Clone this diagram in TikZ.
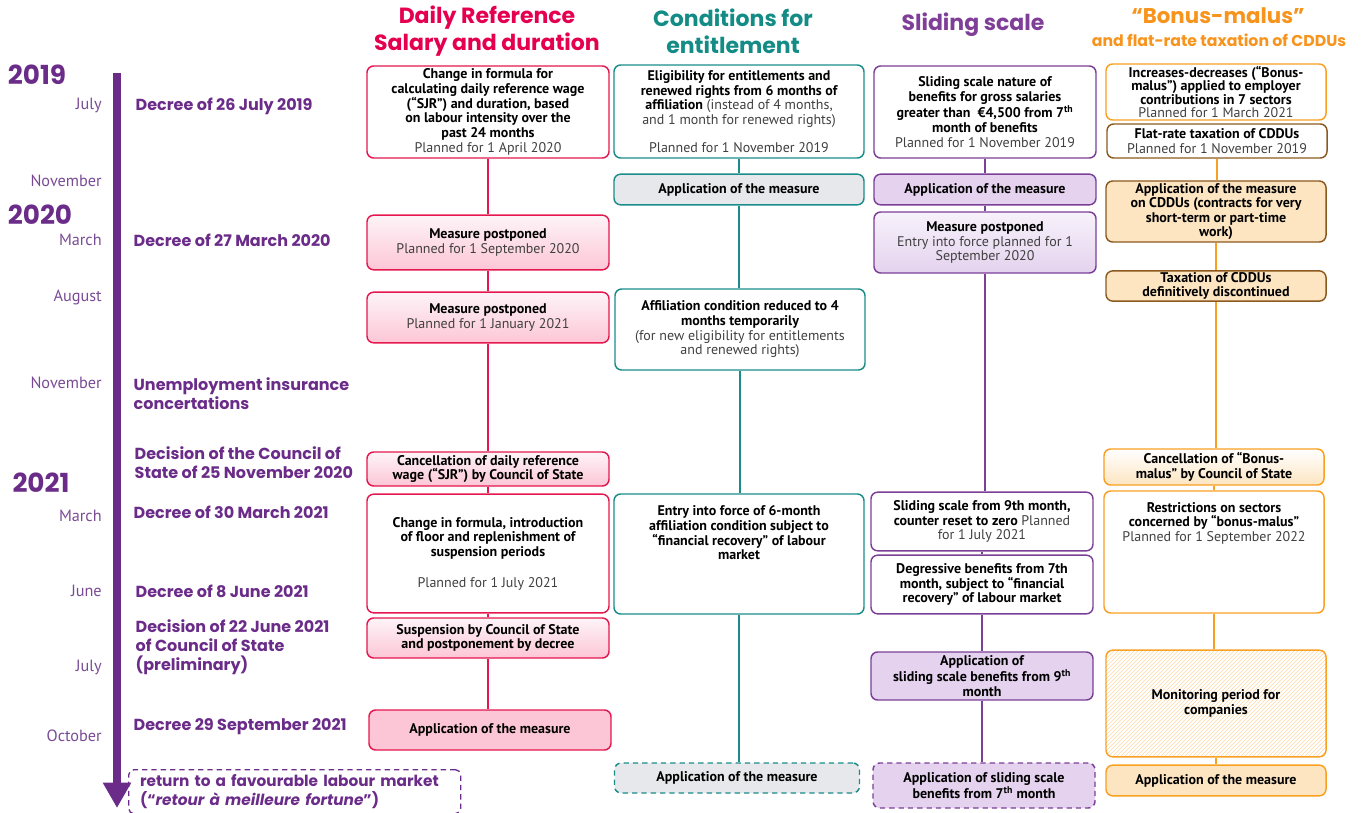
\documentclass[tikz,border=0pt]{standalone}
\usepackage{fontspec}
\setmainfont{PT Sans}
\newfontfamily\headfont{Poppins}
\usetikzlibrary{arrows.meta,patterns}

\definecolor{sjr}{HTML}{E5174E}
\definecolor{sjrfill}{HTML}{FDC6D6}
\definecolor{sjrtop}{HTML}{FDF4F8}
\definecolor{cond}{HTML}{1A8C8A}
\definecolor{condfill}{HTML}{E6E8EB}
\definecolor{slide}{HTML}{7B3F98}
\definecolor{slidefill}{HTML}{E4D2EE}
\definecolor{slidetop}{HTML}{F7F2FB}
\definecolor{bonus}{HTML}{F9A020}
\definecolor{bonusdark}{HTML}{8C5A1F}
\definecolor{bonusfill}{HTML}{FDE5C2}
\definecolor{timeline}{HTML}{6A2C88}
\definecolor{monthcol}{HTML}{7A4B95}
\definecolor{plangray}{HTML}{404040}
\definecolor{hsjr}{HTML}{E5004F}
\definecolor{hcond}{HTML}{138C86}
\definecolor{hslide}{HTML}{7F3F98}
\definecolor{hbonus}{HTML}{F7941D}

\newcommand{\plan}[1]{{\mdseries\color{plangray}#1}}

\begin{document}
\begin{tikzpicture}[x=0.75pt, y=-0.75pt,
  box/.style={draw, rounded corners=5pt, line width=1.1pt, align=center, inner sep=2pt,
    font=\fontsize{10.5}{11}\selectfont\bfseries, text=black},
  sjrbox/.style={box, draw=sjr, minimum width=181.5pt},
  condbox/.style={box, draw=cond, minimum width=187.5pt},
  slidebox/.style={box, draw=slide, minimum width=166.5pt},
  bonusbox/.style={box, draw=bonus, minimum width=165pt},
  dashbox/.style={dash pattern=on 4pt off 3pt},
  link/.style={line width=1.4pt},
  head/.style={font=\headfont\bfseries\fontsize{16.5}{20}\selectfont, align=center},
  year/.style={font=\headfont\bfseries\fontsize{19.7}{22}\selectfont, text=timeline},
  month/.style={anchor=east, inner xsep=0pt, font=\fontsize{12.2}{14}\selectfont, text=monthcol},
  decree/.style={anchor=west, align=left, font=\headfont\bfseries\fontsize{12}{14.3}\selectfont, text=timeline},
]
\useasboundingbox (0,0) rectangle (1363,813);

% --- Timeline ---
\coordinate (tlTop) at (117,73);
\coordinate (tlEnd) at (117,808);
\draw[timeline, line width=6pt, -{Triangle[width=20pt,length=19pt]}] (tlTop) -- (tlEnd);

% --- Years and months ---
\node[year] (y2019) at (37,75) {2019};
\node[year] (y2020) at (40,215) {2020};
\node[year] (y2021) at (41,483) {2021};

\node[month] (mJul19) at (102,105) {July};
\node[month] (mNov19) at (102,181) {November};
\node[month] (mMar20) at (102,240) {March};
\node[month] (mAug20) at (102,297) {August};
\node[month] (mNov20) at (102,383) {November};
\node[month] (mMar21) at (102,516) {March};
\node[month] (mJun21) at (102,591) {June};
\node[month] (mJul21) at (102,667) {July};
\node[month] (mOct21) at (102,736) {October};

% --- Decrees and decisions ---
\node[decree] (dJul19) at (131,106) {Decree of 26 July 2019};
\node[decree] (dMar20) at (129,240) {Decree of 27 March 2020};
\node[decree] (dNov20) at (129,394) {Unemployment insurance\\concertations};
\node[decree] (dCE20) at (130,463) {Decision of the Council of\\State of 25 November 2020};
\node[decree] (dMar21) at (129,512) {Decree of 30 March 2021};
\node[decree] (dJun21) at (131,591) {Decree of 8 June 2021};
\node[decree] (dCE21) at (131,647) {Decision of 22 June 2021\\of Council of State\\(preliminary)};
\node[decree] (dSep21) at (129,727) {Decree 29 September 2021};
\node[draw=timeline, dashbox, line width=1pt, rounded corners=4pt, anchor=north west,
  minimum width=249pt, minimum height=33pt, inner xsep=8pt, text width=232pt, align=left,
  font=\headfont\bfseries\fontsize{11.5}{14}\selectfont, text=timeline]
  (fortune) at (128,769) {return to a favourable labour market\\(“\textit{retour à meilleure fortune}”)};

% --- Column headers ---
\node[head, text=hsjr] (hSJR) at (487,31) {Daily Reference\\Salary and duration};
\node[head, text=hcond] (hCond) at (733,31) {Conditions for\\entitlement};
\node[head, text=hslide] (hSlide) at (973,25) {Sliding scale};
\node[head, text=hbonus, font=\headfont\bfseries\fontsize{16}{20}\selectfont] (hBonus) at (1218,16) {“Bonus-malus”};
\node[text=hbonus, font=\headfont\bfseries\fontsize{11.8}{13}\selectfont] (hBonusSub) at (1219,40) {and flat-rate taxation of CDDUs};

% --- Daily reference salary ---
\node[sjrbox, minimum height=69pt] (sjrA) at (488,112)
  {Change in formula for\\calculating daily reference wage\\(“SJR”) and duration, based\\on labour intensity over the\\past 24 months\\\plan{Planned for 1 April 2020}};
\node[sjrbox, top color=sjrtop, bottom color=sjrfill, minimum height=41pt] (sjrB) at (488,242.5)
  {Measure postponed\\\plan{Planned for 1 September 2020}};
\node[sjrbox, top color=sjrtop, bottom color=sjrfill, minimum height=38pt] (sjrC) at (488,317.5)
  {Measure postponed\\\plan{Planned for 1 January 2021}};
\node[sjrbox, top color=sjrtop, bottom color=sjrfill, minimum height=25.5pt, inner ysep=1pt] (sjrD) at (488,469)
  {Cancellation of daily reference\\wage (“SJR”) by Council of State};
\node[sjrbox, minimum height=89pt] (sjrE) at (488,553.5)
  {Change in formula, introduction\\of floor and replenishment of\\suspension periods\\[12pt]\plan{Planned for 1 July 2021}};
\node[sjrbox, top color=sjrtop, bottom color=sjrfill, minimum height=30pt] (sjrF) at (488,638)
  {Suspension by Council of State\\and postponement by decree};
\node[sjrbox, fill=sjrfill, minimum height=30pt] (sjrG) at (490,730) {Application of the measure};

\draw[sjr, link] (sjrA.south) -- (sjrB.north);
\draw[sjr, link] (sjrB.south) -- (sjrC.north);
\draw[sjr, link] (sjrC.south) -- (sjrD.north);
\draw[sjr, link] (sjrD.south) -- (sjrE.north);
\draw[sjr, link] (sjrE.south) -- (sjrF.north);
\draw[sjr, link] (sjrF.south) -- (sjrF.south |- sjrG.north);

% --- Conditions for entitlement ---
\node[condbox, minimum height=69.75pt] (condA) at (739,111.5)
  {Eligibility for entitlements and\\renewed rights from 6 months of\\affiliation \plan{(instead of 4 months,}\\\plan{and 1 month for renewed rights)}\\[10pt]\plan{Planned for 1 November 2019}};
\node[condbox, fill=condfill, minimum height=23pt] (condB) at (739,189.5) {Application of the measure};
\node[condbox, minimum height=60.75pt] (condC) at (740,329.5)
  {Affiliation condition reduced to 4\\months temporarily\\\plan{(for new eligibility for entitlements}\\\plan{and renewed rights)}};
\node[condbox, minimum height=90pt] (condD) at (739,554)
  {Entry into force of 6-month\\affiliation condition subject to\\“financial recovery” of labour\\market\\[21pt]\mbox{}};
\node[condbox, dashbox, fill=condfill, minimum width=183.75pt, minimum height=22.5pt] (condE) at (737,778)
  {Application of the measure};

\draw[cond, link] (condA.south) -- (condB.north);
\draw[cond, link] (condB.south) -- (condB.south |- condC.north);
\draw[cond, link] (condC.south) -- (condC.south |- condD.north);
\draw[cond, link] (condD.south) -- (condD.south |- condE.north);

% --- Sliding scale ---
\node[slidebox, minimum height=69pt] (slideA) at (985,112)
  {Sliding scale nature of\\benefits for gross salaries\\greater than \ €4,500 from 7\textsuperscript{th}\\month of benefits\\\plan{Planned for 1 November 2019}};
\node[slidebox, fill=slidefill, minimum height=23pt] (slideB) at (985,189.5) {Application of the measure};
\node[slidebox, top color=slidetop, bottom color=slidefill, minimum height=45.75pt] (slideC) at (985,242.5)
  {Measure postponed\\\plan{Entry into force planned for 1}\\\plan{September 2020}};
\node[slidebox, minimum height=44pt] (slideD) at (982,521.5)
  {Sliding scale from 9th month,\\counter reset to zero \plan{Planned}\\\plan{for 1 July 2021}};
\node[slidebox, minimum height=44pt] (slideE) at (982,584.5)
  {Degressive benefits from 7th\\month, subject to “financial\\recovery” of labour market};
\node[slidebox, fill=slidefill, minimum height=36pt, inner ysep=1pt] (slideF) at (982,676)
  {Application of\\sliding scale benefits from 9\textsuperscript{th}\\month};
\node[slidebox, dashbox, fill=slidefill, minimum height=33.75pt] (slideG) at (984,785.5)
  {Application of sliding scale\\benefits from 7\textsuperscript{th} month};

\draw[slide, link] (slideA.south) -- (slideB.north);
\draw[slide, link] (slideB.south) -- (slideC.north);
\draw[slide, link] (slideC.south) -- (slideC.south |- slideD.north);
\draw[slide, link] (slideD.south) -- (slideE.north);
\draw[slide, link] (slideE.south) -- (slideF.north);
\draw[slide, link] (slideF.south) -- (slideF.south |- slideG.north);

% --- Bonus-malus and CDDUs ---
\node[bonusbox, minimum height=42pt, inner ysep=1pt, font=\fontsize{10.5}{10}\selectfont\bfseries] (bonusA) at (1216,92)
  {Increases-decreases (“Bonus-\\malus”) applied to employer\\contributions in 7 sectors\\\plan{Planned for 1 March 2021}};
\node[bonusbox, draw=bonusdark, minimum height=25.5pt, inner ysep=1pt] (bonusB) at (1217,141)
  {Flat-rate taxation of CDDUs\\\plan{Planned for 1 November 2019}};
\node[bonusbox, draw=bonusdark, fill=bonusfill, minimum height=45.75pt, inner ysep=1pt, font=\fontsize{10.5}{10.6}\selectfont\bfseries] (bonusC) at (1216,211.5)
  {Application of the measure\\on CDDUs (contracts for very\\short-term or part-time\\work)};
\node[bonusbox, draw=bonusdark, fill=bonusfill, minimum height=22.5pt, inner ysep=1pt] (bonusD) at (1216,286)
  {Taxation of CDDUs\\definitively discontinued};
\node[bonusbox, top color=white, bottom color=bonusfill, minimum height=27pt] (bonusE) at (1214,467)
  {Cancellation of “Bonus-\\malus” by Council of State};
\node[bonusbox, minimum height=91.5pt] (bonusF) at (1214,552)
  {Restrictions on sectors\\concerned by “bonus-malus”\\\plan{Planned for 1 September 2022}\\[34pt]\mbox{}};
\node[bonusbox, pattern=north east lines, pattern color=bonus!40, minimum height=80pt] (bonusG) at (1216,703.5)
  {Monitoring period for\\companies};
\node[bonusbox, fill=bonusfill, minimum height=23pt] (bonusH) at (1216,780.5) {Application of the measure};

\draw[bonus, link] (bonusB.south) -- (bonusB.south |- bonusC.north);
\draw[bonus, link] (bonusC.south) -- (bonusD.north);
\draw[bonus, link] (bonusD.south) -- (bonusD.south |- bonusE.north);
\draw[bonus, link] (bonusE.south) -- (bonusE.south |- bonusF.north);
\draw[bonus, link] (bonusF.south) -- (bonusF.south |- bonusG.north);
\draw[bonus, link] (bonusG.south) -- (bonusH.north);

\end{tikzpicture}
\end{document}
